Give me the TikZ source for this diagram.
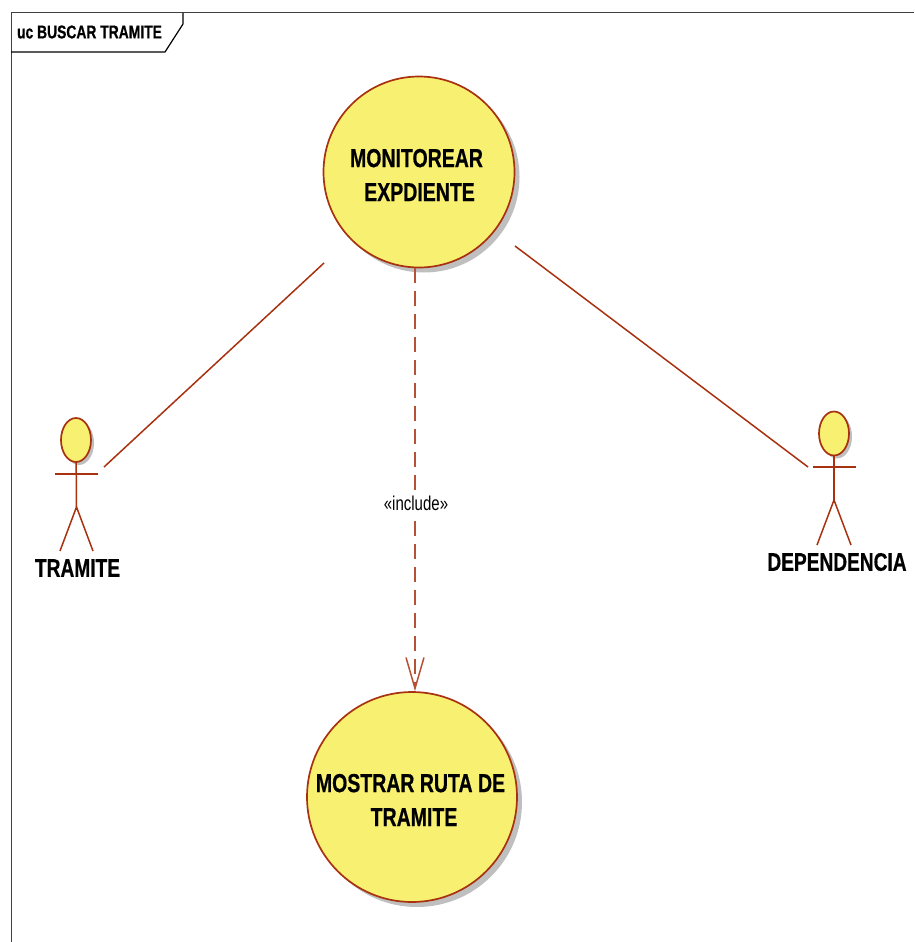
\documentclass[tikz,border=0pt]{standalone}
\usepackage{fontspec}
\setmainfont[FakeStretch=0.75,BoldFeatures={FakeBold=0.5}]{Liberation Sans}
\usetikzlibrary{arrows.meta}
\usetikzlibrary{shadows}
\usetikzlibrary{shapes.geometric}
\definecolor{linea}{HTML}{A83210}
\definecolor{relleno}{HTML}{F8F070}
\definecolor{marco}{HTML}{404040}
\tikzset{
    usecase/.style={circle,draw=linea,fill=relleno,line width=1.7pt,inner sep=0pt,
        drop shadow={shadow xshift=5pt,shadow yshift=-5pt,fill=black!25,opacity=1}},
    usecaselabel/.style={align=center,inner sep=0pt,font=\bfseries\fontsize{26}{34}\selectfont},
    actorhead/.style={ellipse,draw=linea,fill=relleno,line width=1.7pt,inner sep=0pt,
        minimum width=30pt,minimum height=44pt,
        drop shadow={shadow xshift=3pt,shadow yshift=-3pt,fill=black!25,opacity=1}},
    actorlabel/.style={font=\bfseries\fontsize{25.5}{30}\selectfont,inner sep=0pt},
    stick/.style={draw=linea,line width=1.5pt},
    assoc/.style={draw=linea,line width=1.5pt},
    include/.style={draw=linea!85!white,line width=1.5pt,dash pattern=on 14.5pt off 8.5pt,
        -{Straight Barb[length=31pt,width=18pt,line width=1.5pt]}},
}
\begin{document}
\begin{tikzpicture}[x=1pt,y=-1pt]
    \useasboundingbox[fill=white] (0,0) rectangle (914,942);
    % marco
    \coordinate (topleft) at (11,13);
    \coordinate (topright) at (914,13);
    \coordinate (bottomleft) at (11,942);
    \draw[marco,line width=1pt] (bottomleft) -- (topleft) -- (topright);
    \draw[black,line width=1.2pt] (11,52) -- (165,52) -- (183,24) -- (183,13);
    \node[font=\bfseries\fontsize{18.5}{20}\selectfont,inner sep=0pt] (titulo) at (89.5,32) {uc BUSCAR TRAMITE};
    % casos de uso
    \node[usecase,minimum size=191pt] (monitorear) at (419,172) {};
    \node[usecaselabel] (monitoreartext) at (416.5,175) {MONITOREAR\\\hspace*{6pt}EXPDIENTE};
    \node[usecase,minimum size=210pt] (mostrar) at (412,797) {};
    \node[usecaselabel] (mostrartext) at (410.5,800) {MOSTRAR RUTA DE\\\hspace*{7pt}TRAMITE};
    % actor izquierdo
    \node[actorhead] (tramitehead) at (76,440) {};
    \coordinate (tramitearml) at (55,473.5);
    \coordinate (tramitearmr) at (98,473.5);
    \coordinate (tramiteneck) at (76.5,473.5);
    \coordinate (tramitehip) at (76.5,507);
    \coordinate (tramitefootl) at (60,551);
    \coordinate (tramitefootr) at (93,551);
    \draw[stick] (tramitehead) -- (tramiteneck |- tramitehip);
    \draw[stick,line width=2pt] (tramitearml) -- (tramitearmr);
    \draw[stick] (tramitefootl) -- (tramitehip) -- (tramitefootr);
    \node[actorlabel] (tramite) at (77.5,568) {TRAMITE};
    % actor derecho
    \node[actorhead] (dependenciahead) at (834,433.5) {};
    \coordinate (dependenciaarml) at (813,467);
    \coordinate (dependenciaarmr) at (856,467);
    \coordinate (dependencianeck) at (834,467);
    \coordinate (dependenciahip) at (834,500);
    \coordinate (dependenciafootl) at (817,545);
    \coordinate (dependenciafootr) at (851,545);
    \draw[stick] (dependenciahead) -- (dependencianeck |- dependenciahip);
    \draw[stick,line width=2pt] (dependenciaarml) -- (dependenciaarmr);
    \draw[stick] (dependenciafootl) -- (dependenciahip) -- (dependenciafootr);
    \node[actorlabel] (dependencia) at (837,562) {DEPENDENCIA};
    % relaciones
    \coordinate (assocla) at (324,263);
    \coordinate (assoclb) at (104,467);
    \coordinate (assocra) at (515,246);
    \coordinate (assocrb) at (808,467);
    \coordinate (includea) at (415,268);
    \draw[assoc] (assocla) -- (assoclb);
    \draw[assoc] (assocra) -- (assocrb);
    \draw[include] (includea) -- (includea |- mostrar.north);
    \node[fill=white,inner xsep=1pt,inner ysep=5pt,font=\fontsize{20}{22}\selectfont] (includelabel) at (416,503) {«include»};
\end{tikzpicture}
\end{document}
